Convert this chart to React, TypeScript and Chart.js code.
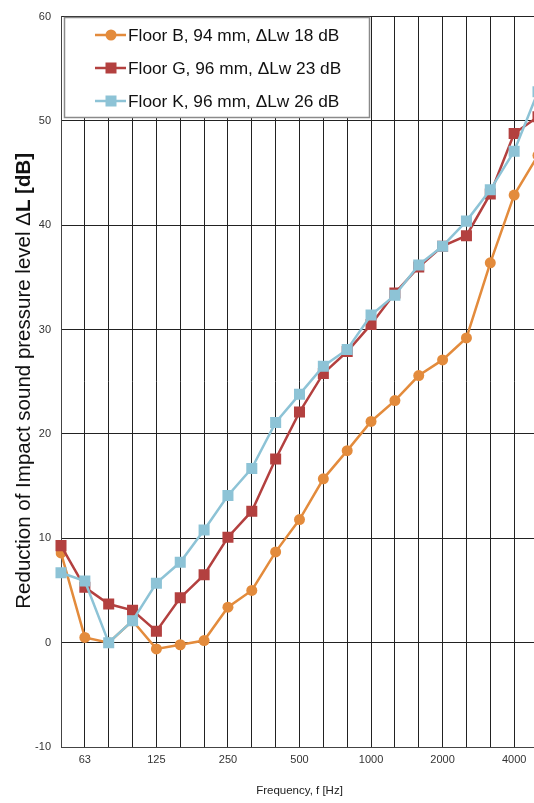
import React, { useEffect, useRef } from 'react';
import { Chart, registerables } from 'chart.js';

Chart.register(...registerables);

const frequencies = ['50', '63', '80', '100', '125', '160', '200', '250', '315', '400', '500', '630', '800', '1000', '1250', '1600', '2000', '2500', '3150', '4000', '5000'];
const labeledFrequencies = ['63', '125', '250', '500', '1000', '2000', '4000'];

const floorB = [8.6, 0.5, 0.0, 2.1, -0.6, -0.2, 0.2, 3.4, 5.0, 8.7, 11.8, 15.7, 18.4, 21.2, 23.2, 25.6, 27.1, 29.2, 36.4, 42.9, 46.7];
const floorG = [9.3, 5.3, 3.7, 3.1, 1.1, 4.3, 6.5, 10.1, 12.6, 17.6, 22.1, 25.8, 27.9, 30.5, 33.5, 36.0, 38.0, 39.0, 43.0, 48.8, 50.4];
const floorK = [6.7, 5.9, 0.0, 2.1, 5.7, 7.7, 10.8, 14.1, 16.7, 21.1, 23.8, 26.5, 28.1, 31.4, 33.3, 36.2, 38.0, 40.4, 43.4, 47.1, 52.8];

const seriesNames = ['Floor B, 94 mm, \u0394Lw 18 dB', 'Floor G, 96 mm, \u0394Lw 23 dB', 'Floor K, 96 mm, \u0394Lw 26 dB'];
const seriesColors = ['#E38B3C', '#B3403F', '#8DC3D6'];
const seriesMarkers = ['circle', 'rect', 'rect'];

const yTitleNormal = 'Reduction of Impact sound pressure level \u0394';
const yTitleBold = 'L [dB]';
const xTitle = 'Frequency, f [Hz]';

const FONT = "'Liberation Sans', Arial, sans-serif";

const yTitlePlugin = {
  id: 'yTitlePlugin',
  afterDraw(chart: any) {
    const { ctx, chartArea } = chart;
    ctx.save();
    const cy = (chartArea.top + chartArea.bottom) / 2 - 1;
    ctx.translate(24, cy);
    ctx.rotate(-Math.PI / 2);
    ctx.fillStyle = '#111';
    ctx.textBaseline = 'middle';
    ctx.textAlign = 'left';
    const normalFont = `20.5px ${FONT}`;
    const boldFont = `bold 20.5px ${FONT}`;
    ctx.font = normalFont;
    const w1 = ctx.measureText(yTitleNormal).width;
    ctx.font = boldFont;
    const w2 = ctx.measureText(yTitleBold).width;
    const start = -(w1 + w2) / 2;
    ctx.font = normalFont;
    ctx.fillText(yTitleNormal, start, 0);
    ctx.font = boldFont;
    ctx.fillText(yTitleBold, start + w1, 0);
    ctx.restore();
  },
};

const legendBoxPlugin = {
  id: 'legendBoxPlugin',
  afterDraw(chart: any) {
    const { ctx } = chart;
    ctx.save();
    const bx = 64.5, by = 17.5, bw = 305, bh = 100;
    ctx.fillStyle = '#ffffff';
    ctx.fillRect(bx, by, bw, bh);
    ctx.strokeStyle = '#8a8a8a';
    ctx.lineWidth = 1.5;
    ctx.strokeRect(bx, by, bw, bh);
    const rows = [35, 68, 101];
    chart.data.datasets.forEach((ds: any, i: number) => {
      const y = rows[i];
      ctx.strokeStyle = ds.borderColor;
      ctx.lineWidth = 2.5;
      ctx.beginPath();
      ctx.moveTo(95, y);
      ctx.lineTo(126, y);
      ctx.stroke();
      ctx.fillStyle = ds.backgroundColor;
      if (ds.pointStyle === 'circle') {
        ctx.beginPath();
        ctx.arc(111, y, 5.5, 0, Math.PI * 2);
        ctx.fill();
      } else {
        ctx.fillRect(111 - 5.5, y - 5.5, 11, 11);
      }
      ctx.fillStyle = '#111';
      ctx.font = `17.3px ${FONT}`;
      ctx.textBaseline = 'middle';
      ctx.textAlign = 'left';
      ctx.fillText(ds.label, 128, y + 1);
    });
    ctx.restore();
  },
};

export default function App() {
  const canvasRef = useRef<HTMLCanvasElement | null>(null);

  useEffect(() => {
    const canvas = canvasRef.current;
    if (!canvas) return;
    const seriesValues = [floorB, floorG, floorK];
    const chart = new Chart(canvas, {
      type: 'line',
      data: {
        labels: frequencies,
        datasets: seriesValues.map((vals, i) => ({
          label: seriesNames[i],
          data: vals,
          borderColor: seriesColors[i],
          backgroundColor: seriesColors[i],
          pointBackgroundColor: seriesColors[i],
          pointBorderColor: seriesColors[i],
          pointStyle: seriesMarkers[i],
          pointRadius: seriesMarkers[i] === 'circle' ? 5.5 : 7.8,
          pointBorderWidth: 0,
          borderWidth: 2.5,
          tension: 0,
          order: 3 - i,
        })),
      },
      options: {
        responsive: false,
        animation: false,
        devicePixelRatio: 1,
        layout: { padding: { top: 15, right: 22, left: 0, bottom: 0 } },
        plugins: {
          legend: { display: false },
          tooltip: { enabled: false },
        },
        scales: {
          x: {
            type: 'category',
            offset: false,
            grid: { color: '#222', lineWidth: 1, drawTicks: false },
            border: { color: '#444', width: 1 },
            ticks: {
              autoSkip: false,
              maxRotation: 0,
              minRotation: 0,
              padding: 6,
              color: '#333',
              font: { family: FONT, size: 11 },
              callback: (_v: any, idx: number) =>
                labeledFrequencies.includes(frequencies[idx]) ? frequencies[idx] : '',
            },
            title: {
              display: true,
              text: xTitle,
              color: '#222',
              font: { family: FONT, size: 11.5 },
              padding: { top: 18, bottom: 5 },
            },
            afterFit: (scale: any) => {
              scale.height = 56;
            },
          },
          y: {
            min: -10,
            max: 60,
            ticks: {
              stepSize: 10,
              padding: 10,
              color: '#333',
              font: { family: FONT, size: 11 },
            },
            grid: { color: '#222', lineWidth: 1, drawTicks: false },
            border: { color: '#444', width: 1 },
            afterFit: (scale: any) => {
              scale.width = 61;
            },
          },
        },
      },
      plugins: [yTitlePlugin, legendBoxPlugin],
    } as any);
    return () => chart.destroy();
  }, []);

  return (
    <div style={{ position: 'absolute', left: 0, top: 0, width: 534, height: 803, overflow: 'hidden', background: '#fff' }}>
      <canvas ref={canvasRef} width={560} height={803} style={{ display: 'block', width: 560, height: 803 }} />
    </div>
  );
}
